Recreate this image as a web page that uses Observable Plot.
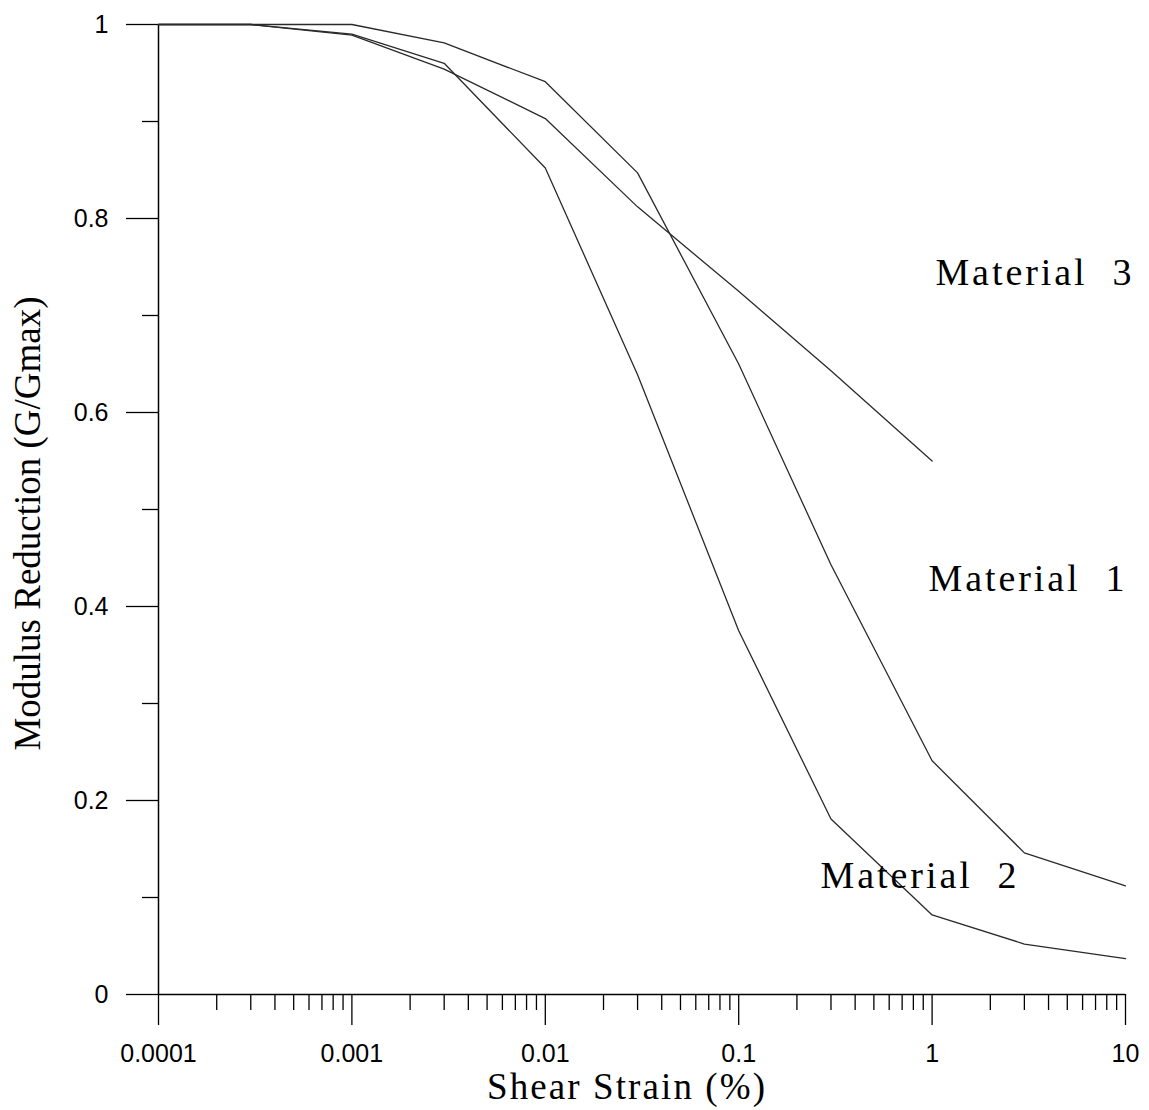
<!DOCTYPE html>
<html>
<head>
<meta charset="utf-8">
<script src="https://cdn.jsdelivr.net/npm/d3@7"></script>
<script src="https://cdn.jsdelivr.net/npm/@observablehq/plot@0.6"></script>
<style>
  html, body { margin: 0; padding: 0; background: #ffffff; }
  #chart { width: 1149px; height: 1110px; }
</style>
</head>
<body>
<div id="chart"></div>
<script>
// ---- Data ----
const strain = [0.0001, 0.0003, 0.001, 0.003, 0.01, 0.03, 0.1, 0.3, 1, 3, 10];
const material1 = [1.0, 1.0, 1.0, 0.981, 0.941, 0.847, 0.65, 0.443, 0.241, 0.146, 0.112];
const material2 = [1.0, 1.0, 0.99, 0.96, 0.852, 0.639, 0.375, 0.181, 0.082, 0.052, 0.037];
const strain3 = [0.0001, 0.0003, 0.001, 0.003, 0.01, 0.03, 0.1, 0.3, 1];
const material3 = [1.0, 1.0, 0.989, 0.954, 0.903, 0.812, 0.725, 0.643, 0.55];

const labelNames = ["Material  3", "Material  1", "Material  2"];
const labelX = [1.04, 0.957, 0.265];
const labelY = [0.744, 0.429, 0.122];

const xMajorTicks = [0.0001, 0.001, 0.01, 0.1, 1, 10];
const xMajorLabels = ["0.0001", "0.001", "0.01", "0.1", "1", "10"];
const yMajorTicks = [0, 0.2, 0.4, 0.6, 0.8, 1];
const yMajorLabels = ["0", "0.2", "0.4", "0.6", "0.8", "1"];
const yMinorTicks = [0.1, 0.3, 0.5, 0.7, 0.9];
const minorMultipliers = [2, 3, 4, 5, 6, 7, 8, 9];

const xTitle = "Shear Strain (%)";
const yTitle = "Modulus Reduction (G/Gmax)";

// ---- Build tables ----
const xMinorTicks = xMajorTicks.slice(0, -1).flatMap(d => minorMultipliers.map(m => +(d * m).toPrecision(6)));
const xLabelMap = new Map(xMajorTicks.map((d, i) => [d, xMajorLabels[i]]));
const yLabelMap = new Map(yMajorTicks.map((d, i) => [d, yMajorLabels[i]]));

const series = [
  strain.map((x, i) => ({x, y: material1[i], s: "Material 1"})),
  strain.map((x, i) => ({x, y: material2[i], s: "Material 2"})),
  strain3.map((x, i) => ({x, y: material3[i], s: "Material 3"}))
].flat();

const labels = labelNames.map((name, i) => ({name, x: labelX[i], y: labelY[i]}));

const serif = "'Liberation Serif', 'DejaVu Serif', serif";

const chart = Plot.plot({
  width: 1149,
  height: 1110,
  marginLeft: 158,
  marginRight: 24,
  marginTop: 24,
  marginBottom: 116,
  style: {background: "#ffffff", color: "#000000", fontFamily: "'Liberation Sans', Arial, sans-serif"},
  x: {type: "log", domain: [0.0001, 10]},
  y: {domain: [0, 1]},
  marks: [
    Plot.axisX({ticks: xMinorTicks, tickSize: 16, tickFormat: () => "", label: null, strokeWidth: 1.3}),
    Plot.axisX({ticks: xMajorTicks, tickSize: 31, tickPadding: 19, tickFormat: d => xLabelMap.get(d), fontSize: 25, label: null, strokeWidth: 1.3}),
    Plot.axisY({ticks: yMinorTicks, tickSize: 16, tickFormat: () => "", label: null, strokeWidth: 1.3}),
    Plot.axisY({ticks: yMajorTicks, tickSize: 32, tickPadding: 18, tickFormat: d => yLabelMap.get(d), fontSize: 25, label: null, strokeWidth: 1.3}),
    Plot.ruleY([0], {stroke: "#000", strokeWidth: 1.5}),
    Plot.ruleX([0.0001], {stroke: "#000", strokeWidth: 1.5}),
    Plot.line(series, {x: "x", y: "y", z: "s", stroke: "#2a2a2a", strokeWidth: 1.3}),
    Plot.text(labels, {x: "x", y: "y", text: "name", textAnchor: "start", lineAnchor: "middle", fontSize: 38, fontFamily: serif, fill: "#000"}),
    Plot.text([xTitle], {frameAnchor: "bottom", textAnchor: "middle", dx: -16, dy: 104, fontSize: 37, fontFamily: serif, fill: "#000"}),
    Plot.text([yTitle], {frameAnchor: "left", textAnchor: "middle", dx: -130, dy: 14, rotate: -90, fontSize: 37, fontFamily: serif, fill: "#000"})
  ]
});

// Mimic the monospaced spacing of the original horizontal labels
const widths = {"Material  3": 196, "Material  1": 196, "Material  2": 196};
widths[xTitle] = 278;
chart.querySelectorAll("text").forEach(t => {
  const w = widths[t.textContent];
  if (w) {
    t.style.whiteSpace = "pre";
    t.setAttribute("textLength", w);
    t.setAttribute("lengthAdjust", "spacing");
  }
});

document.getElementById("chart").appendChild(chart);
</script>
</body>
</html>
